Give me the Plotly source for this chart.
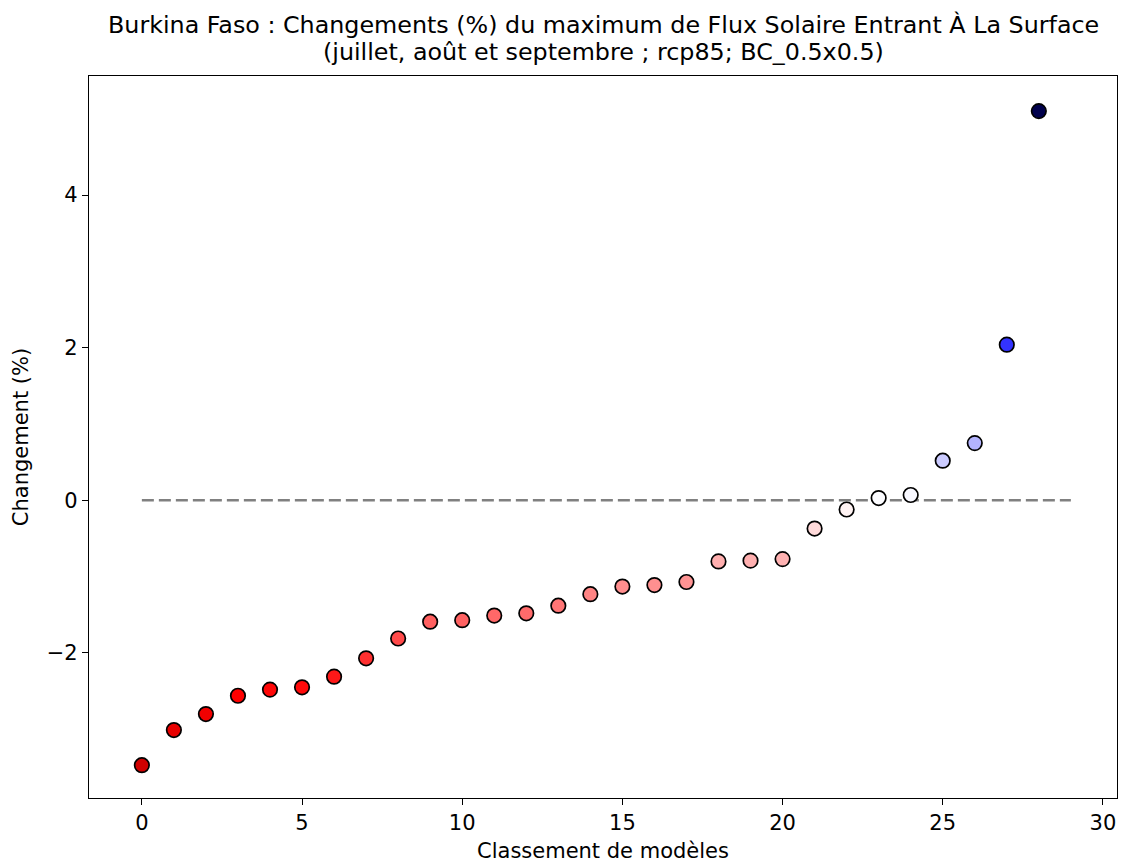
import plotly.graph_objects as go

ranks = list(range(29))
changes = [-3.47, -3.01, -2.80, -2.56, -2.48, -2.45, -2.31, -2.07, -1.81, -1.59,
           -1.57, -1.51, -1.48, -1.38, -1.23, -1.13, -1.11, -1.07, -0.80, -0.79,
           -0.77, -0.37, -0.12, 0.03, 0.07, 0.52, 0.75, 2.04, 5.10]
ref_x = [0, 29]
ref_y = [0, 0]

title_line1 = "Burkina Faso : Changements (%) du maximum de Flux Solaire Entrant À La Surface"
title_line2 = "(juillet, août et septembre ; rcp85; BC_0.5x0.5)"

# reversed "seismic" colormap, symmetric around zero
seismic = [(0.0, (0.0, 0.0, 0.3)), (0.25, (0.0, 0.0, 1.0)), (0.5, (1.0, 1.0, 1.0)),
           (0.75, (1.0, 0.0, 0.0)), (1.0, (0.5, 0.0, 0.0))]


def seismic_color(t):
    t = min(max(t, 0.0), 1.0)
    for (t0, c0), (t1, c1) in zip(seismic[:-1], seismic[1:]):
        if t <= t1:
            f = (t - t0) / (t1 - t0)
            c = [c0[i] + f * (c1[i] - c0[i]) for i in range(3)]
            return "rgb(%d,%d,%d)" % tuple(round(v * 255) for v in c)
    return "rgb(128,0,0)"


vmax = max(abs(v) for v in changes)
colors = [seismic_color(1 - (v + vmax) / (2 * vmax)) for v in changes]

fig = go.Figure()
fig.add_trace(go.Scatter(x=ref_x, y=ref_y, mode="lines",
                         line=dict(color="gray", width=2.5, dash="12px,5px"),
                         hoverinfo="skip", showlegend=False))
fig.add_trace(go.Scatter(x=ranks, y=changes, mode="markers",
                         marker=dict(size=14.5, color=colors,
                                     line=dict(color="black", width=1.7)),
                         showlegend=False))

font = "DejaVu Sans"
W, H = 1122, 863
TOP, LEFT, RIGHT, BOT = 76, 89, 5, 65
plot_h = H - TOP - BOT


def ypix(p):
    return 1 + (TOP - p) / plot_h


fig.update_layout(
    width=W, height=H,
    margin=dict(l=LEFT, r=RIGHT, t=TOP, b=BOT, autoexpand=False),
    paper_bgcolor="white", plot_bgcolor="white",
    font=dict(family=font, size=21, color="black"),
    annotations=[
        dict(text=title_line1, x=0.5, y=ypix(25), xref="paper", yref="paper",
             showarrow=False, font=dict(size=23.8), yanchor="middle", xanchor="center"),
        dict(text=title_line2, x=0.5, y=ypix(52), xref="paper", yref="paper",
             showarrow=False, font=dict(size=23.8), yanchor="middle", xanchor="center"),
    ],
    xaxis=dict(range=[-1.65, 30.44], tickvals=[0, 5, 10, 15, 20, 25, 30],
               showgrid=False, zeroline=False, showline=True, mirror=True,
               linecolor="black", linewidth=1.3, ticks="outside", ticklen=6,
               tickcolor="black", tickfont=dict(size=21), automargin=False,
               title=dict(text="Classement de modèles", font=dict(size=21), standoff=10)),
    yaxis=dict(range=[-3.90, 5.56], tickvals=[-2, 0, 2, 4],
               showgrid=False, zeroline=False, showline=True, mirror=True,
               linecolor="black", linewidth=1.3, ticks="outside", ticklen=6,
               tickcolor="black", tickfont=dict(size=21), automargin=False,
               title=dict(text="Changement (%)", font=dict(size=21), standoff=12)),
)

fig.write_html(
    "out.html",
    config={"displayModeBar": False},
    post_script="document.body.style.margin='0';document.body.style.overflow='hidden';",
)
